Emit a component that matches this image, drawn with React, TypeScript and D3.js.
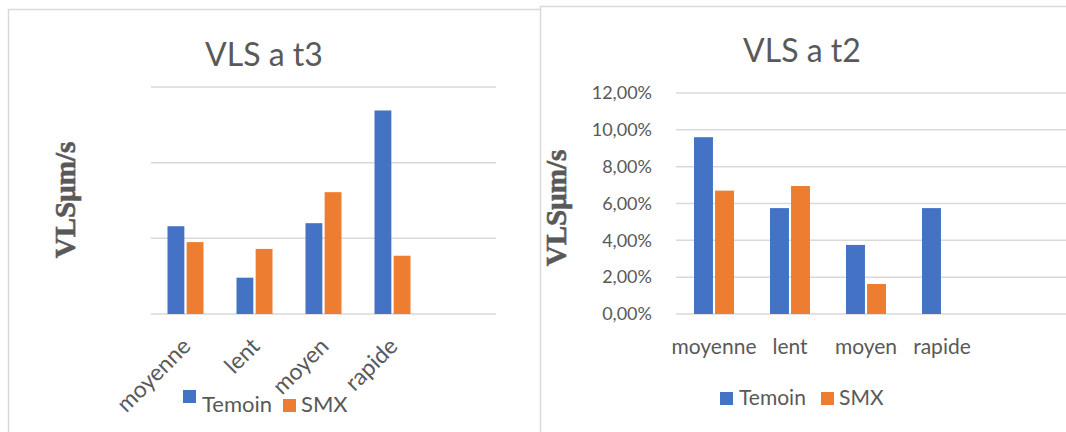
import React from "react";
import * as d3 from "d3";

const categories = ["moyenne", "lent", "moyen", "rapide"];
const seriesNames = ["Temoin", "SMX"];
const t3Temoin = [1.16, 0.48, 1.2, 2.69];
const t3SMX = [0.95, 0.86, 1.61, 0.77];
const t3Ticks = [0, 1, 2, 3];
const t2Temoin = [0.096, 0.0575, 0.0375, 0.0575];
const t2SMX: (number | null)[] = [0.067, 0.0695, 0.0163, null];
const t2Ticks = [0, 0.02, 0.04, 0.06, 0.08, 0.1, 0.12];

const BLUE = "#4472C4";
const ORANGE = "#ED7D31";
const GRID = "#D9D9D9";
const TEXT = "#595959";
const SANS = "Lato, 'Open Sans', sans-serif";
const SERIF = "'Liberation Serif', 'DejaVu Serif', serif";

const colors = [BLUE, ORANGE];

function pct(v: number) {
  return d3.format(".2%")(v).replace(".", ",");
}

export default function App() {
  // Left chart (t3)
  const L = { x0: 151, slot: 69, slots: 5, yTop: 87, yBase: 314 };
  const xL = d3
    .scaleBand<string>()
    .domain(categories)
    .range([L.x0, L.x0 + L.slot * categories.length]);
  const subL = d3
    .scaleBand<string>()
    .domain(seriesNames)
    .range([16.5, L.slot - 16.5])
    .paddingInner(0.12);
  const yL = d3.scaleLinear().domain([0, 3]).range([L.yBase, L.yTop]);
  const t3Data = [t3Temoin, t3SMX];

  // Right chart (t2)
  const R = { x0: 676, slot: 76, yTop: 93, yBase: 314, xEnd: 1066 };
  const xR = d3
    .scaleBand<string>()
    .domain(categories)
    .range([R.x0, R.x0 + R.slot * categories.length]);
  const subR = d3
    .scaleBand<string>()
    .domain(seriesNames)
    .range([18, R.slot - 18])
    .paddingInner(0.1);
  const yR = d3.scaleLinear().domain([0, 0.12]).range([R.yBase, R.yTop]);
  const t2Data = [t2Temoin, t2SMX];

  return (
    <svg
      width={1066}
      height={432}
      style={{ position: "absolute", left: 0, top: 0, background: "#fff" }}
    >
      <rect x={0} y={0} width={1066} height={432} fill="#fff" />
      {/* borders */}
      <path d="M8.5,432 V9.5 H540" fill="none" stroke={GRID} strokeWidth={1.5} />
      <path d="M540.5,432 V6.5 H1066" fill="none" stroke={GRID} strokeWidth={1.5} />

      {/* ---------- Left chart ---------- */}
      <text x={264} y={66} textAnchor="middle" fontFamily={SANS} fontSize={32} fill={TEXT}>
        VLS a t3
      </text>
      {t3Ticks.map((t) => (
        <line
          key={t}
          x1={L.x0}
          x2={L.x0 + L.slot * L.slots}
          y1={yL(t)}
          y2={yL(t)}
          stroke={GRID}
          strokeWidth={1.5}
        />
      ))}
      {t3Data.map((vals, si) =>
        vals.map((v, ci) => (
          <rect
            key={`l${si}-${ci}`}
            x={(xL(categories[ci]) as number) + (subL(seriesNames[si]) as number)}
            width={subL.bandwidth()}
            y={yL(v)}
            height={yL(0) - yL(v)}
            fill={colors[si]}
          />
        ))
      )}
      {categories.map((c) => {
        const cx = (xL(c) as number) + xL.bandwidth() / 2;
        return (
          <text
            key={c}
            transform={`translate(${cx + 1},${342}) rotate(-45)`}
            textAnchor="end"
            dy="0.35em"
            fontFamily={SANS}
            fontSize={23}
            fill={TEXT}
          >
            {c}
          </text>
        );
      })}
      <text
        transform={`translate(${75},${200}) rotate(-90)`}
        textAnchor="middle"
        fontFamily={SERIF}
        fontWeight="bold"
        fontSize={29}
        fill={TEXT}
        stroke={TEXT}
        strokeWidth={0.6}
      >
        VLSµm/s
      </text>
      {/* legend left */}
      <rect x={183} y={390} width={13} height={13} fill={BLUE} />
      <text x={202} y={412} fontFamily={SANS} fontSize={22} fill={TEXT}>
        {seriesNames[0]}
      </text>
      <rect x={283} y={399} width={13} height={13} fill={ORANGE} />
      <text x={301} y={412} fontFamily={SANS} fontSize={22} fill={TEXT}>
        {seriesNames[1]}
      </text>

      {/* ---------- Right chart ---------- */}
      <text x={802} y={62} textAnchor="middle" fontFamily={SANS} fontSize={32} fill={TEXT}>
        VLS a t2
      </text>
      {t2Ticks.map((t) => (
        <g key={t}>
          <line
            x1={R.x0}
            x2={R.xEnd}
            y1={yR(t)}
            y2={yR(t)}
            stroke={GRID}
            strokeWidth={1.5}
          />
          <text
            x={652}
            y={yR(t)}
            dy="0.35em"
            textAnchor="end"
            fontFamily={SANS}
            fontSize={18}
            fill={TEXT}
          >
            {pct(t)}
          </text>
        </g>
      ))}
      {t2Data.map((vals, si) =>
        vals.map((v, ci) =>
          v == null ? null : (
            <rect
              key={`r${si}-${ci}`}
              x={(xR(categories[ci]) as number) + (subR(seriesNames[si]) as number)}
              width={subR.bandwidth()}
              y={yR(v)}
              height={yR(0) - yR(v)}
              fill={colors[si]}
            />
          )
        )
      )}
      {categories.map((c) => {
        const cx = (xR(c) as number) + xR.bandwidth() / 2;
        return (
          <text
            key={c}
            x={cx}
            y={354}
            textAnchor="middle"
            fontFamily={SANS}
            fontSize={21}
            fill={TEXT}
          >
            {c}
          </text>
        );
      })}
      <text
        transform={`translate(${566},${208}) rotate(-90)`}
        textAnchor="middle"
        fontFamily={SERIF}
        fontWeight="bold"
        fontSize={29}
        fill={TEXT}
        stroke={TEXT}
        strokeWidth={0.6}
      >
        VLSµm/s
      </text>
      {/* legend right */}
      <rect x={720} y={392} width={13} height={13} fill={BLUE} />
      <text x={739} y={405} fontFamily={SANS} fontSize={21} fill={TEXT}>
        {seriesNames[0]}
      </text>
      <rect x={821} y={392} width={13} height={13} fill={ORANGE} />
      <text x={839} y={405} fontFamily={SANS} fontSize={21} fill={TEXT}>
        {seriesNames[1]}
      </text>
    </svg>
  );
}
